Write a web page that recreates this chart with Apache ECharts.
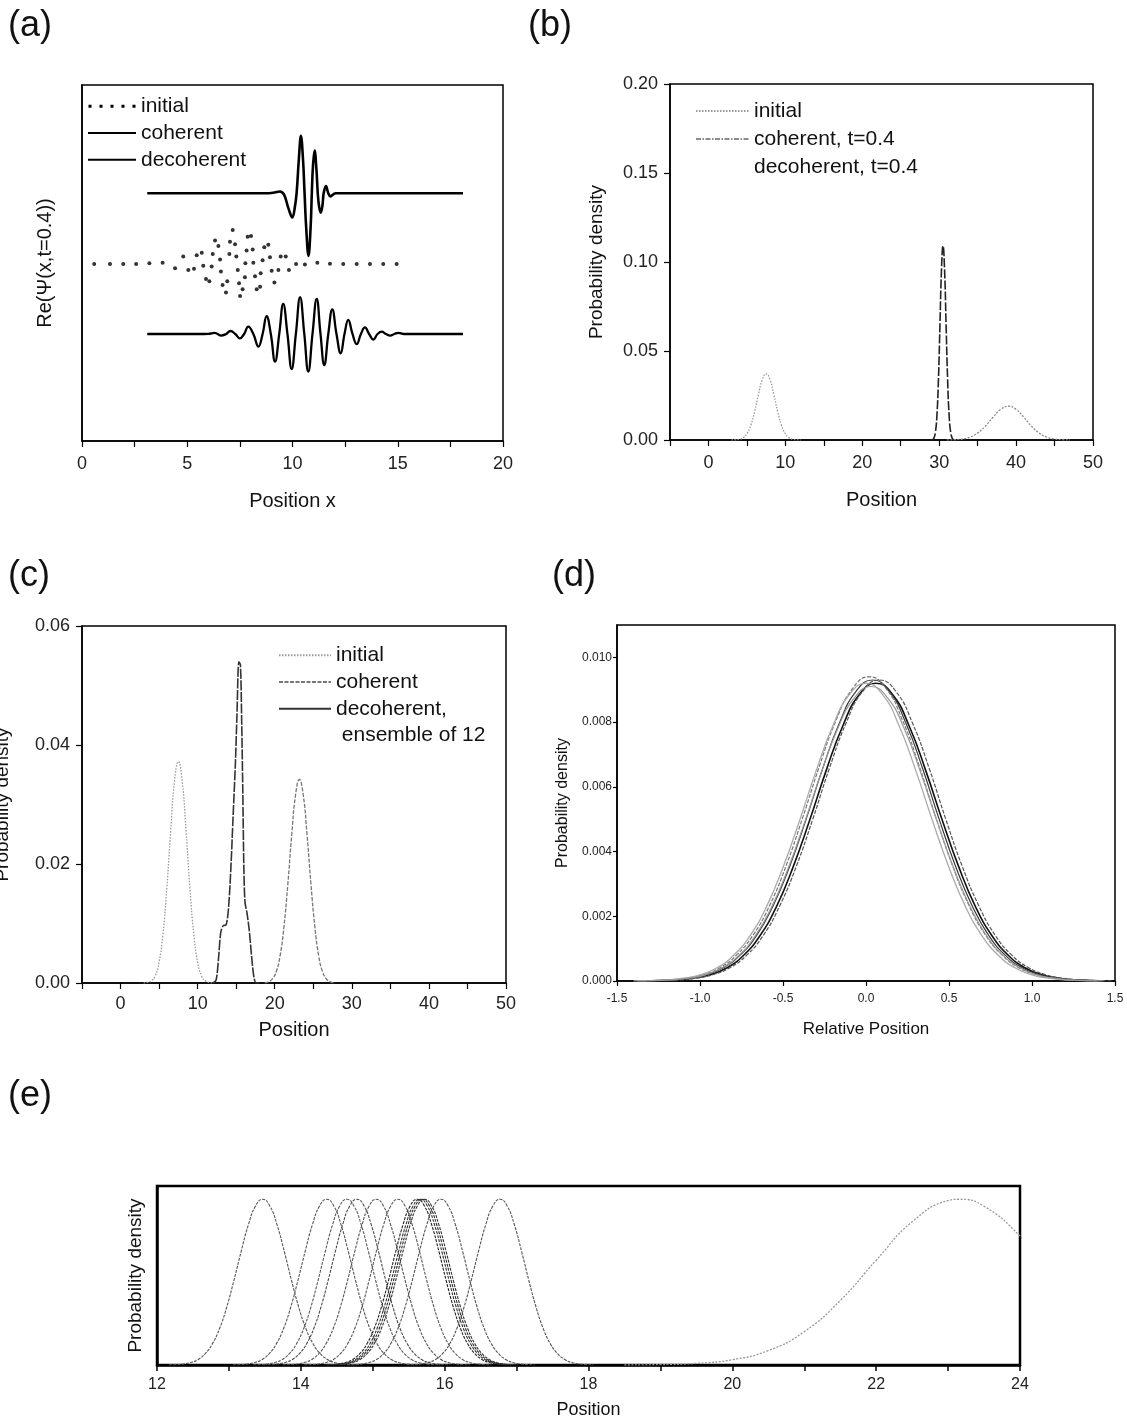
<!DOCTYPE html>
<html><head><meta charset="utf-8">
<script src="https://cdn.jsdelivr.net/npm/echarts@6/dist/echarts.min.js"></script>
<style>html,body{margin:0;padding:0;background:#fff}#c{width:1127px;height:1420px}</style>
</head><body><div id="c"></div><script>
// ---------- DATA ----------
// (a) Re(Psi) curves, arbitrary vertical units (0..100), offset baselines
const A_COHERENT = [[3.1,69.6],[8.9,69.6],[9.15,69.8],[9.4,70.1],[9.6,69.2],[9.8,65.5],[9.99,62.8],[10.12,66],[10.2,70],[10.3,79],[10.4,85.7],[10.5,79],[10.57,70],[10.65,60],[10.76,52.0],[10.86,60],[10.92,70],[10.97,77],[11.05,81.6],[11.14,76],[11.2,69.6],[11.26,66],[11.34,64.1],[11.42,66],[11.48,69.6],[11.59,71.6],[11.7,69.6],[11.8,68.7],[11.92,69.2],[12.05,69.6],[18.1,69.6]];
const A_DECOHERENT = [[3.1,30.06],[5.8,30.06],[6.0,30.1],[6.3,30.4],[6.6,29.6],[6.85,30.06],[7.05,30.9],[7.28,30.06],[7.5,28.8],[7.7,30.06],[7.9,32.1],[8.14,30.06],[8.38,26.5],[8.58,30.06],[8.77,35.1],[8.97,30.06],[9.17,22.3],[9.37,30.06],[9.56,38.5],[9.76,30.06],[9.96,20.2],[10.16,30.06],[10.36,40.4],[10.56,30.06],[10.75,19.5],[10.95,30.06],[11.15,39.9],[11.33,30.06],[11.51,21.3],[11.7,30.06],[11.89,37.0],[12.09,30.06],[12.29,24.6],[12.47,30.06],[12.65,34.0],[12.85,30.06],[13.05,27.2],[13.25,30.06],[13.44,31.9],[13.64,30.06],[13.84,28.5],[14.04,30.06],[14.24,30.7],[14.44,30.06],[14.64,29.6],[14.84,30.06],[15.03,30.4],[15.3,30.06],[18.1,30.06]];
const A_INITIAL = [[0.58,49.7],[1.33,49.7],[1.96,49.7],[2.57,49.7],[3.20,49.9],[3.83,50.1],[4.42,48.5],[4.81,51.8],[5.05,48.0],[5.32,48.4],[5.45,52.2],[5.69,52.9],[5.76,49.2],[5.89,45.5],[6.05,44.9],[6.16,49.0],[6.21,52.5],[6.32,56.3],[6.48,54.8],[6.56,51.0],[6.60,47.6],[6.68,43.8],[6.84,41.7],[6.90,44.9],[7.00,52.5],[7.03,56.0],[7.16,59.3],[7.27,55.3],[7.33,51.8],[7.40,48.0],[7.46,44.3],[7.51,40.7],[7.63,42.6],[7.74,46.0],[7.76,49.9],[7.82,53.5],[7.87,57.4],[8.03,57.6],[8.11,53.8],[8.14,50.1],[8.22,46.3],[8.30,42.6],[8.46,43.3],[8.49,47.1],[8.58,50.8],[8.66,54.4],[8.85,55.1],[8.93,51.6],[9.01,47.8],[9.14,44.5],[9.33,48.0],[9.44,51.8],[9.68,51.8],[9.83,48.0],[10.17,49.7],[10.59,49.6],[11.18,50.1],[11.78,49.8],[12.41,49.7],[13.05,49.7],[13.68,49.7],[14.31,49.7],[14.95,49.7]];

// (b),(c) probability densities
const PROB_INITIAL = [[3.0,0],[3.5,0.00009],[4.0,0.00036],[4.5,0.0012],[5.0,0.0035],[5.5,0.0082],[6.0,0.0159],[6.5,0.0255],[7.0,0.0339],[7.5,0.0372],[8.0,0.0339],[8.5,0.0255],[9.0,0.0159],[9.5,0.0082],[10.0,0.0035],[10.5,0.0012],[11.0,0.00036],[11.5,0.00009],[12.0,0]];
const B_COHERENT = [[28.9,0],[29.1,0.00017],[29.3,0.00095],[29.5,0.0041],[29.7,0.0133],[29.9,0.0334],[30.1,0.0644],[30.3,0.0956],[30.5,0.109],[30.7,0.0956],[30.9,0.0644],[31.1,0.0334],[31.3,0.0133],[31.5,0.0041],[31.7,0.00095],[31.9,0.00017],[32.1,0]];
const B_DECOHERENT = [[31,0],[32,0.00015],[33,0.00054],[34,0.0016],[35,0.0039],[36,0.0078],[37,0.0128],[38,0.0172],[39,0.0190],[40,0.0172],[41,0.0128],[42,0.0078],[43,0.0039],[44,0.0016],[45,0.00054],[46,0.00015],[47,0]];
const C_COHERENT = [[18.7,0],[19.2,0.0002],[19.7,0.00068],[20.2,0.0019],[20.7,0.0046],[21.2,0.0095],[21.7,0.0166],[22.2,0.0248],[22.7,0.0316],[23.2,0.0342],[23.7,0.0316],[24.2,0.0248],[24.7,0.0166],[25.2,0.0095],[25.7,0.0046],[26.2,0.0019],[26.7,0.00068],[27.2,0.0002],[27.7,0]];
const C_DECOHERENT = [[12.0,0],[12.4,0.0005],[12.7,0.004],[13.0,0.0085],[13.3,0.0096],[13.7,0.0098],[14.0,0.0125],[14.3,0.019],[14.6,0.028],[14.9,0.037],[15.1,0.045],[15.35,0.054],[15.55,0.0535],[15.7,0.045],[15.85,0.033],[16.0,0.019],[16.15,0.0135],[16.4,0.0118],[16.7,0.0088],[17.0,0.0045],[17.3,0.001],[17.6,0],[18.0,0]];

// (d) relative-position densities: offsets from each curve's centre
const D_OFFSETS = [-1.4,-1.3,-1.2,-1.1,-1.0,-0.9,-0.8,-0.7,-0.6,-0.5,-0.4,-0.3,-0.2,-0.1,0,0.1,0.2,0.3,0.4,0.5,0.6,0.7,0.8,0.9,1.0,1.1,1.2,1.3,1.4];
const D_CENTERS = [0.06, 0.04, 0.02, 0.00, 0.08, 0.03];
const D1_VALUES = [0.000005,0.000014,0.000036,0.000086,0.00019,0.00040,0.00078,0.00139,0.00229,0.00351,0.00496,0.00650,0.00788,0.00885,0.00920,0.00885,0.00788,0.00650,0.00496,0.00351,0.00229,0.00139,0.00078,0.00040,0.00019,0.000086,0.000036,0.000014,0.000005];
const D2_VALUES = [0.000005,0.000014,0.000036,0.000087,0.00020,0.00041,0.00079,0.00140,0.00232,0.00354,0.00501,0.00658,0.00797,0.00895,0.00930,0.00895,0.00797,0.00658,0.00501,0.00354,0.00232,0.00140,0.00079,0.00041,0.00020,0.000087,0.000036,0.000014,0.000005];
const D3_VALUES = [0.000005,0.000014,0.000036,0.000088,0.00020,0.00041,0.00080,0.00142,0.00234,0.00358,0.00507,0.00665,0.00806,0.00904,0.00940,0.00904,0.00806,0.00665,0.00507,0.00358,0.00234,0.00142,0.00080,0.00041,0.00020,0.000088,0.000036,0.000014,0.000005];
const D4_VALUES = [0.000005,0.000014,0.000036,0.000086,0.00019,0.00040,0.00078,0.00139,0.00229,0.00351,0.00496,0.00650,0.00788,0.00885,0.00920,0.00885,0.00788,0.00650,0.00496,0.00351,0.00229,0.00139,0.00078,0.00040,0.00019,0.000086,0.000036,0.000014,0.000005];
const D5_VALUES = [0.000005,0.000014,0.000036,0.000087,0.00020,0.00041,0.00079,0.00140,0.00232,0.00354,0.00501,0.00658,0.00797,0.00895,0.00930,0.00895,0.00797,0.00658,0.00501,0.00354,0.00232,0.00140,0.00079,0.00041,0.00020,0.000087,0.000036,0.000014,0.000005];
const D6_VALUES = [0.000005,0.000013,0.000035,0.000086,0.00019,0.00040,0.00077,0.00137,0.00227,0.00347,0.00490,0.00643,0.00780,0.00875,0.00910,0.00875,0.00780,0.00643,0.00490,0.00347,0.00227,0.00137,0.00077,0.00040,0.00019,0.000086,0.000035,0.000013,0.000005];

// (e) ensemble members: common profile (normalised height), offsets from centre
const E_OFFSETS = [-1.3,-1.2,-1.1,-1.0,-0.9,-0.8,-0.7,-0.6,-0.5,-0.4,-0.3,-0.2,-0.1,0,0.1,0.2,0.3,0.4,0.5,0.6,0.7,0.8,0.9,1.0,1.1,1.2,1.3];
const E_PROFILE = [0.0008,0.0024,0.0062,0.015,0.033,0.068,0.128,0.220,0.350,0.511,0.685,0.845,0.959,1,0.959,0.845,0.685,0.511,0.350,0.220,0.128,0.068,0.033,0.015,0.0062,0.0024,0.0008];
const E_CENTERS = [13.47,14.36,14.64,14.78,15.05,15.35,15.62,15.66,15.69,15.72,15.95,16.77];
const E_COHERENT = [[18.5,0],[19.0,0.0025],[19.5,0.0098],[20.0,0.032],[20.5,0.087],[21.0,0.201],[21.5,0.389],[22.0,0.632],[22.5,0.864],[23.0,0.992],[23.15,1],[23.5,0.958],[24.0,0.778],[24.5,0.531]];

const LEGEND_TEXT = {
  a_init:'initial', a_coh:'coherent', a_dec:'decoherent',
  b_init:'initial', b_coh:'coherent, t=0.4', b_dec:'decoherent, t=0.4',
  c_init:'initial', c_coh:'coherent', c_dec:'decoherent,', c_ens:' ensemble of 12'
};
const PANEL_LABELS = ['(a)','(b)','(c)','(d)','(e)'];

// ---------- CHART ----------
const FONT = '"Liberation Sans", Arial, Helvetica, sans-serif';
const chart = echarts.init(document.getElementById('c'), null, {renderer:'canvas'});
const BLACK = '#000';

function axisBase(extra){
  return Object.assign({
    type:'value',
    axisLine:{show:true, onZero:false, lineStyle:{color:BLACK, width:1.5}},
    axisTick:{show:true, inside:false, length:6, lineStyle:{color:BLACK, width:1.2}},
    splitLine:{show:false},
    minorSplitLine:{show:false},
    nameLocation:'middle',
    nameTextStyle:{color:'#111', fontFamily:FONT}
  }, extra);
}
const fmtTens = v => (Math.round(v) % 10 === 0 ? String(Math.round(v)) : '');

const grids = [
  {left:82, top:85, width:421, height:356},
  {left:670, top:84, width:423, height:356},
  {left:82, top:626, width:424, height:357},
  {left:617, top:625, width:498, height:356},
  {left:157, top:1186, width:863, height:179}
].map((g,i) => Object.assign({show:true, borderColor:BLACK, borderWidth: i===4 ? 2.5 : 1.5, containLabel:false, outerBoundsMode:'none'}, g));

const xAxes = [
  axisBase({gridIndex:0, min:0, max:20, interval:5, name:'Position x', nameGap:50,
    nameTextStyle:{fontSize:20, color:'#111', fontFamily:FONT},
    minorTick:{show:true, splitNumber:2, length:6, lineStyle:{color:BLACK, width:1.2}},
    axisLabel:{fontSize:18, margin:14, color:'#222', fontFamily:FONT}}),
  axisBase({gridIndex:1, min:-5, max:50, interval:5, name:'Position', nameGap:50,
    nameTextStyle:{fontSize:20, color:'#111', fontFamily:FONT},
    axisLabel:{fontSize:18, margin:14, color:'#222', fontFamily:FONT, formatter:fmtTens}}),
  axisBase({gridIndex:2, min:-5, max:50, interval:5, name:'Position', nameGap:37,
    nameTextStyle:{fontSize:20, color:'#111', fontFamily:FONT},
    axisLabel:{fontSize:18, margin:12, color:'#222', fontFamily:FONT, formatter:fmtTens}}),
  axisBase({gridIndex:3, min:-1.5, max:1.5, interval:0.5, name:'Relative Position', nameGap:40,
    nameTextStyle:{fontSize:17, color:'#111', fontFamily:FONT},
    axisTick:{show:true, length:5, lineStyle:{color:BLACK, width:1.2}},
    axisLabel:{fontSize:12, margin:12, color:'#222', fontFamily:FONT, formatter:v=>v.toFixed(1)}}),
  axisBase({gridIndex:4, min:12, max:24, interval:1, name:'Position', nameGap:36,
    nameTextStyle:{fontSize:18, color:'#111', fontFamily:FONT},
    axisLine:{show:true, onZero:false, lineStyle:{color:BLACK, width:2.5}},
    axisTick:{show:true, length:6, lineStyle:{color:BLACK, width:1.5}},
    axisLabel:{fontSize:16, margin:12, color:'#222', fontFamily:FONT, formatter:v=>(Math.round(v)%2===0?String(Math.round(v)):'')}})
];
const yAxes = [
  axisBase({gridIndex:0, min:0, max:100, name:'Re(Ψ(x,t=0.4))', nameGap:27,
    nameTextStyle:{fontSize:20, color:'#111', fontFamily:FONT},
    axisTick:{show:false}, axisLabel:{show:false}}),
  axisBase({gridIndex:1, min:0, max:0.2, interval:0.05, name:'Probability density', nameGap:64,
    nameTextStyle:{fontSize:19, color:'#111', fontFamily:FONT},
    axisLabel:{fontSize:18, margin:12, color:'#222', fontFamily:FONT, formatter:v=>v.toFixed(2)}}),
  axisBase({gridIndex:2, min:0, max:0.06, interval:0.02, name:'Probability density', nameGap:70,
    nameTextStyle:{fontSize:19, color:'#111', fontFamily:FONT},
    axisLabel:{fontSize:18, margin:12, color:'#222', fontFamily:FONT, formatter:v=>v.toFixed(2)}}),
  axisBase({gridIndex:3, min:0, max:0.011, interval:0.002, name:'Probability density', nameGap:46,
    nameTextStyle:{fontSize:16, color:'#111', fontFamily:FONT},
    axisTick:{show:true, length:4, lineStyle:{color:BLACK, width:1.2}},
    axisLabel:{fontSize:12, margin:5, color:'#222', fontFamily:FONT, showMaxLabel:false,
      formatter:v=>(Math.abs(v-0.011)<1e-9 ? '' : v.toFixed(3))}}),
  axisBase({gridIndex:4, min:0, max:1.08, name:'Probability density', nameGap:12,
    nameTextStyle:{fontSize:19, color:'#111', fontFamily:FONT},
    axisLine:{show:true, onZero:false, lineStyle:{color:BLACK, width:2.5}},
    axisTick:{show:false}, axisLabel:{show:false}})
];

function lineSeries(name, ax, data, ls, smooth){
  return {name, type:'line', xAxisIndex:ax, yAxisIndex:ax, data, symbol:'none', showSymbol:false,
    smooth: smooth == null ? 0.5 : smooth, lineStyle:ls, emphasis:{disabled:true}, silent:true, z:3};
}

const series = [
  lineSeries('a_coh', 0, A_COHERENT, {color:BLACK, width:2.6}, 0.4),
  lineSeries('a_dec', 0, A_DECOHERENT, {color:BLACK, width:2.3}, 0.45),
  {name:'a_init', type:'scatter', xAxisIndex:0, yAxisIndex:0, data:A_INITIAL, symbol:'circle', symbolSize:4,
    itemStyle:{color:BLACK}, silent:true},
  lineSeries('b_init', 1, PROB_INITIAL, {color:'#9a9a9a', width:1.3, type:[1.5,1.5]}),
  lineSeries('b_coh', 1, B_COHERENT, {color:'#222', width:1.6, type:[9,2]}),
  lineSeries('b_dec', 1, B_DECOHERENT, {color:'#8a8a8a', width:1.3, type:[2,1.5]}),
  lineSeries('c_init', 2, PROB_INITIAL, {color:'#9a9a9a', width:1.3, type:[1.5,1.5]}),
  lineSeries('c_coh', 2, C_COHERENT, {color:'#777', width:1.3, type:[4,1.5]}),
  lineSeries('c_dec', 2, C_DECOHERENT, {color:'#333', width:1.6, type:[10,1.5]}, 0.3),
  lineSeries('c_ens', 2, [], {color:'#fff', width:0})
];

const D_VALUES = [D1_VALUES, D2_VALUES, D3_VALUES, D4_VALUES, D5_VALUES, D6_VALUES];
const D_STYLES = [
  {color:'#111', width:1.6},
  {color:'#3a3a3a', width:1.2},
  {color:'#777', width:1.2, type:[4,1.5]},
  {color:'#aaa', width:1.3},
  {color:'#555', width:1.2, type:[4,1.5]},
  {color:'#999', width:1.2}
];
D_VALUES.forEach((vals,k) => {
  series.push(lineSeries('d'+k, 3, D_OFFSETS.map((off,i)=>[D_CENTERS[k]+off, vals[i]]), D_STYLES[k], 0.5));
});
const E_COLORS = ['#555','#555','#5a5a5a','#4a4a4a','#555','#5a5a5a','#222','#333','#2a2a2a','#333','#555','#555'];
E_CENTERS.forEach((c,k) => {
  series.push(lineSeries('e'+k, 4, E_OFFSETS.map((off,i)=>[c+off, E_PROFILE[i]]), {color:E_COLORS[k], width:1.1, type:[3,1.2]}, 0.5));
});
series.push(lineSeries('e_coh', 4, E_COHERENT, {color:'#999', width:1.3, type:[2,1.5]}, 0.5));

const DOTS_ICON = 'path://M0,0h3v3h-3zM11,0h3v3h-3zM22,0h3v3h-3zM33,0h3v3h-3zM44,0h3v3h-3z';
const legendFmt = n => LEGEND_TEXT[n];
const legends = [
  {orient:'vertical', left:87, top:93, padding:0, itemWidth:48, itemHeight:3, itemGap:0, itemTextGap:10,
    selectedMode:false, formatter:legendFmt, itemStyle:{opacity:0},
    textStyle:{fontSize:21, lineHeight:26.7, color:'#111', fontFamily:FONT},
    data:[{name:'a_init', icon:DOTS_ICON, itemStyle:{opacity:1, color:BLACK}}, 'a_coh', 'a_dec']},
  {orient:'vertical', left:695, top:97, padding:0, itemWidth:53, itemHeight:14, itemGap:0, itemTextGap:5,
    selectedMode:false, formatter:legendFmt, itemStyle:{opacity:0},
    textStyle:{fontSize:21, lineHeight:28, color:'#111', fontFamily:FONT},
    data:['b_init',{name:'b_coh', lineStyle:{color:'#666', width:1.4, type:[5,1.5,1.5,1.5]}},{name:'b_dec', lineStyle:{opacity:0}}]},
  {orient:'vertical', left:278, top:642, padding:0, itemWidth:52, itemHeight:14, itemGap:0, itemTextGap:7,
    selectedMode:false, formatter:legendFmt, itemStyle:{opacity:0},
    textStyle:{fontSize:21, lineHeight:26.7, color:'#111', fontFamily:FONT},
    data:['c_init','c_coh',{name:'c_dec', lineStyle:{type:'solid'}},{name:'c_ens', lineStyle:{opacity:0}}]}
];

const titlePos = [[8,8],[528,8],[8,558],[552,558],[8,1078]];
const titles = PANEL_LABELS.map((t,i)=>({text:t, left:titlePos[i][0], top:titlePos[i][1], padding:0,
  textStyle:{fontSize:36, fontWeight:'normal', color:'#111', fontFamily:FONT}}));

chart.setOption({
  animation:false,
  backgroundColor:'#fff',
  textStyle:{fontFamily:FONT},
  title:titles,
  grid:grids,
  xAxis:xAxes,
  yAxis:yAxes,
  legend:legends,
  series
});
</script></body></html>
